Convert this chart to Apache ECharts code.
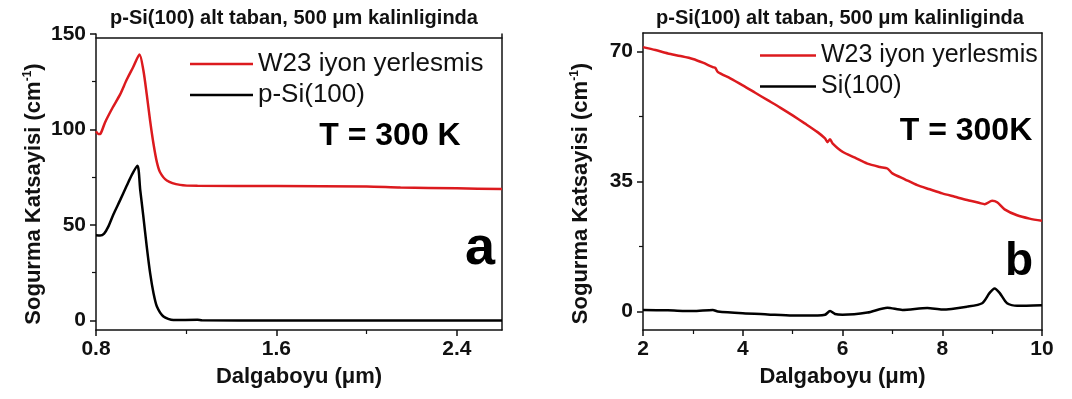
<!DOCTYPE html>
<html>
<head>
<meta charset="utf-8">
<script src="https://cdn.jsdelivr.net/npm/echarts@6/dist/echarts.min.js"></script>
<style>
html,body{margin:0;padding:0;background:#fff;}
#chart{width:1072px;height:399px;}
</style>
</head>
<body>
<div id="chart"></div>
<script>
// ---------- data ----------
const titleText = 'p-Si(100) alt taban, 500 μm kalinliginda';
const xName = 'Dalgaboyu (μm)';
const yName = 'Sogurma Katsayisi (cm{sup|-1})';

// panel a
const aTickMajorX = [0.8, 1.6, 2.4];
const aTickMinorX = [1.2, 2.0];
const aTickMajorY = [0, 50, 100, 150];
const aTickMinorY = [25, 75, 125];
const aRedName = 'W23 iyon yerlesmis';
const aBlackName = 'p-Si(100)';
const aRedX = [0.800, 0.810, 0.820, 0.840, 0.874, 0.907, 0.936, 0.965, 0.993, 1.010, 1.025, 1.040, 1.055, 1.070, 1.084, 1.114, 1.173, 1.250, 1.600, 2.000, 2.150, 2.400, 2.600];
const aRedY = [99.0, 97.6, 97.8, 103.7, 111.5, 118.4, 126.0, 132.7, 139.3, 131.0, 118.4, 104.5, 92.4, 82.8, 77.6, 73.3, 71.0, 70.5, 70.4, 70.2, 69.6, 69.2, 68.8];
const aBlackX = [0.800, 0.818, 0.836, 0.854, 0.877, 0.907, 0.936, 0.960, 0.984, 0.996, 1.010, 1.025, 1.040, 1.055, 1.070, 1.099, 1.143, 1.250, 1.270, 1.600, 2.000, 2.600];
const aBlackY = [44.6, 44.5, 45.5, 49.0, 55.5, 63.0, 70.5, 76.5, 81.0, 68.4, 54.4, 38.7, 24.8, 14.3, 7.3, 2.1, 0.2, 0.4, 0.1, 0.0, 0.0, 0.0];

// panel b
const bTickMajorX = [2, 4, 6, 8, 10];
const bTickMinorX = [3, 5, 7, 9];
const bTickMajorY = [0, 35, 70];
const bTickMinorY = [17.5, 52.5];
const bRedName = 'W23 iyon yerlesmis';
const bBlackName = 'Si(100)';
const bRedX = [2.0, 2.25, 2.5, 2.75, 3.0, 3.2, 3.4, 3.45, 3.5, 3.75, 4.0, 4.25, 4.5, 4.75, 5.0, 5.25, 5.5, 5.65, 5.7, 5.75, 5.8, 6.0, 6.25, 6.5, 6.75, 6.9, 7.0, 7.25, 7.5, 7.75, 8.0, 8.25, 8.5, 8.75, 8.85, 9.0, 9.1, 9.25, 9.5, 9.75, 10.0];
const bRedY = [71.2, 70.4, 69.5, 68.8, 68.0, 67.0, 65.8, 65.6, 64.5, 62.8, 60.9, 58.9, 56.9, 54.9, 52.8, 50.6, 48.3, 46.6, 45.6, 46.4, 45.3, 43.0, 41.4, 39.8, 38.9, 38.5, 37.2, 35.6, 34.0, 32.9, 31.8, 30.9, 30.0, 29.2, 28.9, 29.8, 29.4, 27.5, 25.9, 25.0, 24.4];
const bBlackX = [2.0, 2.5, 3.0, 3.4, 3.5, 4.0, 4.5, 5.0, 5.5, 5.65, 5.75, 5.85, 6.0, 6.5, 6.9, 7.2, 7.7, 8.0, 8.5, 8.8, 8.95, 9.05, 9.15, 9.3, 9.5, 10.0];
const bBlackY = [0.4, 0.3, 0.1, 0.4, 0.0, -0.5, -0.8, -1.1, -1.1, -0.9, 0.1, -0.7, -0.9, -0.3, 1.0, 0.4, 0.9, 0.5, 1.3, 2.2, 5.0, 6.2, 5.0, 2.2, 1.5, 1.7];

const tempA = 'T = 300 K';
const tempB = 'T = 300K';
const panelA = 'a';
const panelB = 'b';

// ---------- styling ----------
const FONT = '"Liberation Sans", Arial, sans-serif';
const RED = '#dc1a1e';
const BLACK = '#000000';
const AXIS = '#111111';
const zip = (xs, ys) => xs.map((x, i) => [x, ys[i]]);

function xAxes(grid, min, max, major, minor, dec) {
  return [
    {
      gridIndex: grid, type: 'value', min: min, max: max, position: 'bottom',
      name: xName, nameLocation: 'middle', nameGap: 36,
      nameTextStyle: {fontFamily: FONT, fontWeight: 'bold', fontSize: 22, color: '#111'},
      axisLine: {show: true, onZero: false, lineStyle: {color: AXIS, width: 1.5}},
      axisTick: {show: true, inside: false, length: 6, customValues: major, lineStyle: {color: AXIS, width: 1.5}},
      axisLabel: {show: true, margin: 9, customValues: major, fontFamily: FONT, fontWeight: 'bold', fontSize: 21, color: '#111',
        formatter: v => dec ? v.toFixed(dec) : String(v)},
      splitLine: {show: false}
    },
    {
      gridIndex: grid, type: 'value', min: min, max: max, position: 'bottom',
      axisLine: {show: false, onZero: false},
      axisTick: {show: true, inside: false, length: 4, customValues: minor, lineStyle: {color: AXIS, width: 1.2}},
      axisLabel: {show: false}, splitLine: {show: false}
    }
  ];
}
function yAxes(grid, min, max, major, minor) {
  return [
    {
      gridIndex: grid, type: 'value', min: min, max: max, position: 'left',
      name: yName, nameLocation: 'middle', nameGap: 50, nameRotate: 90,
      nameTextStyle: {fontFamily: FONT, fontWeight: 'bold', fontSize: 22, color: '#111', padding: [0, 24, 0, 0],
        rich: {sup: {fontFamily: FONT, fontWeight: 'bold', fontSize: 12, color: '#111', verticalAlign: 'top', padding: [0, 0, 12, 0]}}},
      axisLine: {show: true, onZero: false, lineStyle: {color: AXIS, width: 1.5}},
      axisTick: {show: true, inside: false, length: 6, customValues: major, lineStyle: {color: AXIS, width: 1.5}},
      axisLabel: {show: true, margin: 10, customValues: major, fontFamily: FONT, fontWeight: 'bold', fontSize: 21, color: '#111'},
      splitLine: {show: false}
    },
    {
      gridIndex: grid, type: 'value', min: min, max: max, position: 'left',
      axisLine: {show: false, onZero: false},
      axisTick: {show: true, inside: false, length: 4, customValues: minor, lineStyle: {color: AXIS, width: 1.2}},
      axisLabel: {show: false}, splitLine: {show: false}
    },
    {
      gridIndex: grid, type: 'value', min: min, max: max, position: 'right',
      axisLine: {show: true, onZero: false, lineStyle: {color: AXIS, width: 1.5}},
      axisTick: {show: false}, axisLabel: {show: false}, splitLine: {show: false}
    }
  ];
}
function topBorder(grid, min, max, offset) {
  return {
    gridIndex: grid, type: 'value', min: min, max: max, position: 'top', offset: offset,
    axisLine: {show: true, onZero: false, lineStyle: {color: AXIS, width: 1.5}},
    axisTick: {show: false}, axisLabel: {show: false}, splitLine: {show: false}
  };
}

const xAxisList = [
  ...xAxes(0, 0.8, 2.6, aTickMajorX, aTickMinorX, 1),   // 0,1
  ...xAxes(1, 2, 10, bTickMajorX, bTickMinorX, 0),      // 2,3
  topBorder(0, 0.8, 2.6, -4),                           // 4
  topBorder(1, 2, 10, 0)                                // 5
];
const yAxisList = [
  ...yAxes(0, -5, 150, aTickMajorY, aTickMinorY),       // 0,1,2
  ...yAxes(1, -5, 75, bTickMajorY, bTickMinorY)         // 3,4,5
];

function lineSeries(name, xi, yi, data, color) {
  return {
    type: 'line', name: name, xAxisIndex: xi, yAxisIndex: yi, data: data,
    symbol: 'none', smooth: 0.25, lineStyle: {color: color, width: 2.5}, itemStyle: {color: color},
    emphasis: {disabled: true}, silent: true
  };
}

const legendText = size => ({fontFamily: FONT, fontSize: size, color: '#111'});

const option = {
  animation: false,
  backgroundColor: '#ffffff',
  title: [
    {text: titleText, left: 289, top: 3, textAlign: 'center',
      textStyle: {fontFamily: FONT, fontWeight: 'bold', fontSize: 20, color: '#111'}},
    {text: titleText, left: 835, top: 3, textAlign: 'center',
      textStyle: {fontFamily: FONT, fontWeight: 'bold', fontSize: 20, color: '#111'}}
  ],
  grid: [
    {left: 96, top: 34, width: 406, height: 296},
    {left: 643, top: 33, width: 399, height: 297}
  ],
  legend: [
    {data: ['aRed', 'aBlack'], orient: 'vertical', left: 185, top: 46, icon: 'rect', itemWidth: 63, itemHeight: 2.5, itemGap: 5,
      textStyle: legendText(26), formatter: n => n === 'aRed' ? aRedName : aBlackName, selectedMode: false},
    {data: ['bRed', 'bBlack'], orient: 'vertical', left: 755, top: 38, icon: 'rect', itemWidth: 56, itemHeight: 2.5, itemGap: 6,
      textStyle: legendText(25), formatter: n => n === 'bRed' ? bRedName : bBlackName, selectedMode: false}
  ],
  xAxis: xAxisList,
  yAxis: yAxisList,
  series: [
    lineSeries('aRed', 0, 0, zip(aRedX, aRedY), RED),
    lineSeries('aBlack', 0, 0, zip(aBlackX, aBlackY), BLACK),
    lineSeries('bRed', 2, 3, zip(bRedX, bRedY), RED),
    lineSeries('bBlack', 2, 3, zip(bBlackX, bBlackY), BLACK)
  ],
  graphic: [
    {type: 'text', x: 390, y: 136, style: {text: tempA, font: 'bold 32px ' + FONT, fill: '#000', align: 'center', verticalAlign: 'middle'}},
    {type: 'text', x: 966, y: 131, style: {text: tempB, font: 'bold 32px ' + FONT, fill: '#000', align: 'center', verticalAlign: 'middle'}},
    {type: 'text', x: 480, y: 249, style: {text: panelA, font: 'bold 54px ' + FONT, fill: '#000', align: 'center', verticalAlign: 'middle'}},
    {type: 'text', x: 1019, y: 262, style: {text: panelB, font: 'bold 46px ' + FONT, fill: '#000', align: 'center', verticalAlign: 'middle'}}
  ]
};

const chart = echarts.init(document.getElementById('chart'), null, {renderer: 'canvas'});
chart.setOption(option);
</script>
</body>
</html>
